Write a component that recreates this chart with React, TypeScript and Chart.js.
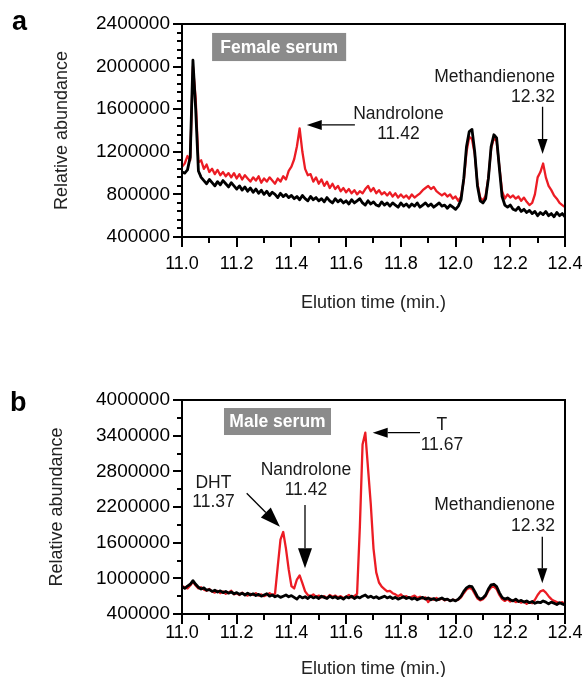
import React, { useEffect, useRef } from "react";
import { Chart, registerables } from "chart.js";

Chart.register(...registerables);

const FONT = '"Liberation Sans", Arial, Helvetica, sans-serif';
const RED = "#ec1c24";

// sampling grid (minutes)
const TIMES = Array.from({ length: 141 }, (_, i) => Math.round((11 + i * 0.01) * 100) / 100);

// values in thousands of counts, one per TIMES entry (11.00 .. 12.40)
const FEMALE_BLACK_K = [
  1010, 1000, 1030, 1150, 2060, 1600, 1020, 960, 930, 900,
  940, 910, 880, 920, 890, 930, 900, 870, 910, 880,
  850, 880, 840, 870, 830, 860, 820, 850, 810, 840,
  800, 830, 790, 820, 800, 770, 810, 780, 800, 770,
  790, 760, 780, 750, 790, 760, 740, 780, 750, 770,
  740, 760, 730, 770, 740, 720, 760, 730, 750, 720,
  740, 710, 750, 720, 740, 760, 720, 700, 740, 710,
  730, 700, 690, 730, 700, 720, 690, 720, 700, 680,
  720, 690, 710, 680, 710, 690, 720, 680, 700, 720,
  690, 710, 680, 700, 720, 690, 700, 670, 700, 680,
  660, 690, 750, 950, 1250, 1390, 1410, 1200, 880, 740,
  720, 760, 950, 1250, 1360, 1330, 1050, 780, 700, 680,
  700, 660, 650, 680, 640, 660, 630, 650, 620, 640,
  600, 630, 610, 640, 600, 620, 590, 630, 600, 620,
  590,
];

const FEMALE_RED_K = [
  1060, 1090, 1160, 1120, 2000, 1700, 1100, 1120, 1040, 1080,
  1010, 1040, 990, 1030, 980, 1010, 970, 1000, 960, 1000,
  950, 990, 940, 980, 950, 920, 960, 930, 970, 910,
  950, 920, 960, 930, 900, 950, 920, 970, 940, 1020,
  1060, 1130, 1250, 1420, 1200, 1040, 980, 990, 920, 960,
  900, 940, 880, 920, 860, 900, 850, 880, 830, 860,
  820, 850, 810, 840, 800, 830, 810, 850, 880, 830,
  860, 810, 840, 800, 820, 790, 820, 780, 810, 770,
  800, 770, 790, 760, 800, 770, 790, 810, 840, 860,
  880, 850, 870, 830, 810, 790, 810, 780, 800, 760,
  780, 740, 780, 930, 1200, 1340, 1320, 1180, 900, 770,
  740, 790, 960, 1230, 1330, 1300, 1060, 830, 760, 800,
  770, 790, 760, 780, 740, 770, 730, 700, 720, 800,
  960, 1010, 1090, 960, 880, 840, 790, 760, 720, 700,
  680,
];

const MALE_BLACK_K = [
  860, 830, 870, 900, 960, 900, 850, 820, 840, 800,
  810, 780, 800, 770, 790, 760, 780, 750, 770, 740,
  760, 730, 750, 720, 750, 720, 740, 710, 730, 700,
  720, 740, 700, 720, 690, 710, 680, 700, 720, 690,
  710, 680, 650, 700, 670, 690, 660, 700, 670, 690,
  660, 700, 680, 660, 700, 670, 690, 660, 680, 650,
  690, 670, 700, 660, 690, 670, 700, 720, 680, 700,
  670, 690, 660, 680, 700, 670, 690, 660, 680, 650,
  670, 690, 660, 680, 650, 670, 640, 660, 680, 650,
  670, 640, 660, 630, 650, 670, 640, 650, 620, 640,
  620, 650, 700, 780, 840, 870, 860, 780, 690, 650,
  670, 720, 820, 890, 900, 860, 760, 680, 650, 670,
  640, 620, 650, 610, 630, 600, 620, 590, 610, 580,
  600, 590, 620, 600, 570, 600, 580, 560, 590, 570,
  550,
];

const MALE_RED_K = [
  870, 850, 830, 880, 940, 880, 830, 850, 810, 790,
  820, 780, 760, 790, 750, 780, 740, 760, 790, 730,
  750, 720, 760, 730, 710, 740, 720, 750, 710, 730,
  700, 720, 750, 720, 740, 1200, 1650, 1780, 1500, 1150,
  870, 830, 980, 1050, 920, 780, 720, 700, 730, 690,
  710, 680, 700, 670, 720, 690, 710, 680, 700, 670,
  690, 720, 680, 700, 740, 1850, 3250, 3450, 2850, 2250,
  1500, 1100, 930, 860, 820, 780, 790, 750, 730, 700,
  730, 680, 700, 670, 690, 710, 670, 690, 660, 680,
  600, 660, 640, 670, 640, 660, 630, 650, 620, 640,
  630, 640, 680, 750, 810, 840, 820, 740, 660, 630,
  650, 700, 790, 850, 860, 820, 720, 650, 620, 650,
  610, 630, 600, 620, 590, 610, 570, 600, 580, 640,
  720, 780, 800, 760, 700, 650, 620, 600, 580, 600,
  570,
];

// annotations, in data coordinates (minutes, counts)
const FEMALE_TAG = { text: "Female serum", t0: 11.11, t1: 11.6, v0: 2052000, v1: 2316000 };
const FEMALE_LABELS = [
  { text: "Nandrolone", t: 11.791, v: 1510000, align: "center" },
  { text: "11.42", t: 11.791, v: 1317000, align: "center" },
  { text: "Methandienone", t: 12.363, v: 1858000, align: "right" },
  { text: "12.32", t: 12.363, v: 1670000, align: "right" },
];
const FEMALE_ARROWS = [
  { t1: 11.632, v1: 1452000, t2: 11.456, v2: 1452000, big: false },
  { t1: 12.318, v1: 1623000, t2: 12.318, v2: 1179000, big: false },
];

const MALE_TAG = { text: "Male serum", t0: 11.1535, t1: 11.5446, v0: 3411000, v1: 3865000 };
const MALE_LABELS = [
  { text: "DHT", t: 11.115, v: 2528000, align: "center" },
  { text: "11.37", t: 11.115, v: 2200000, align: "center" },
  { text: "Nandrolone", t: 11.453, v: 2738000, align: "center" },
  { text: "11.42", t: 11.453, v: 2410000, align: "center" },
  { text: "T", t: 11.95, v: 3495000, align: "center" },
  { text: "11.67", t: 11.95, v: 3159000, align: "center" },
  { text: "Methandienone", t: 12.363, v: 2150000, align: "right" },
  { text: "12.32", t: 12.363, v: 1801000, align: "right" },
];
const MALE_ARROWS = [
  { t1: 11.2365, v1: 2430000, t2: 11.358, v2: 1869000, big: true },
  { t1: 11.4496, v1: 2234000, t2: 11.4496, v2: 1169000, big: true },
  { t1: 11.87, v1: 3450000, t2: 11.697, v2: 3450000, big: false },
  { t1: 12.317, v1: 1700000, t2: 12.317, v2: 916000, big: false },
];

type PanelCfg = {
  id: string;
  letter: string;
  letterX: number;
  letterY: number;
  top: number;
  height: number;
  padTop: number;
  xHeight: number;
  xTickLineHeight: number;
  xTitlePad: number;
  yTitlePad: number;
  yMin: number;
  yMax: number;
  yMajor: number;
  yMinor: number;
  black: number[];
  red: number[];
  tag: any;
  labels: any[];
  arrows: any[];
};

function makeDecor(p: PanelCfg) {
  return {
    id: "decor" + p.id,
    afterDraw(chart: any) {
      const { ctx, chartArea: a, scales } = chart;
      const xs = scales.x;
      const ys = scales.y;
      const px = (t: number) => xs.getPixelForValue(t);
      const py = (v: number) => ys.getPixelForValue(v);
      ctx.save();

      // frame
      ctx.strokeStyle = "#000";
      ctx.lineWidth = 2;
      ctx.strokeRect(a.left, a.top, a.right - a.left, a.bottom - a.top);

      // y ticks
      const ny = Math.round((p.yMax - p.yMin) / p.yMinor);
      const every = Math.round(p.yMajor / p.yMinor);
      ctx.beginPath();
      for (let i = 0; i <= ny; i++) {
        const y = Math.round(py(p.yMin + i * p.yMinor));
        const len = i % every === 0 ? 9 : 5;
        ctx.moveTo(a.left, y);
        ctx.lineTo(a.left - len, y);
      }
      // x ticks (major 0.2, minor 0.1)
      for (let i = 0; i <= 14; i++) {
        const x = Math.round(px(11 + i * 0.1));
        const len = i % 2 === 0 ? 10 : 6;
        ctx.moveTo(x, a.bottom);
        ctx.lineTo(x, a.bottom + len);
      }
      ctx.stroke();

      // tag box
      const tg = p.tag;
      const bx0 = px(tg.t0), bx1 = px(tg.t1), by0 = py(tg.v1), by1 = py(tg.v0);
      ctx.fillStyle = "#8b8b8b";
      ctx.fillRect(bx0, by0, bx1 - bx0, by1 - by0);
      ctx.fillStyle = "#fff";
      ctx.font = `bold 17.5px ${FONT}`;
      ctx.textAlign = "center";
      ctx.textBaseline = "middle";
      ctx.fillText(tg.text, (bx0 + bx1) / 2, (by0 + by1) / 2 + 1);

      // labels
      ctx.fillStyle = "#1a1a1a";
      ctx.font = `17.5px ${FONT}`;
      ctx.textBaseline = "alphabetic";
      for (const l of p.labels) {
        ctx.textAlign = l.align;
        ctx.fillText(l.text, px(l.t), py(l.v));
      }

      // arrows
      ctx.strokeStyle = "#000";
      ctx.fillStyle = "#000";
      ctx.lineWidth = 1.3;
      for (const ar of p.arrows) {
        const x1 = px(ar.t1), y1 = py(ar.v1), x2 = px(ar.t2), y2 = py(ar.v2);
        const L = ar.big ? 20 : 15;
        const W = ar.big ? 7 : 5;
        const dx = x2 - x1, dy = y2 - y1;
        const d = Math.hypot(dx, dy);
        const ux = dx / d, uy = dy / d;
        const bx = x2 - ux * L, by = y2 - uy * L;
        ctx.beginPath();
        ctx.moveTo(x1, y1);
        ctx.lineTo(bx, by);
        ctx.stroke();
        ctx.beginPath();
        ctx.moveTo(x2, y2);
        ctx.lineTo(bx - uy * W, by + ux * W);
        ctx.lineTo(bx + uy * W, by - ux * W);
        ctx.closePath();
        ctx.fill();
      }

      // panel letter
      ctx.fillStyle = "#000";
      ctx.font = `bold 27px ${FONT}`;
      ctx.textAlign = "left";
      ctx.textBaseline = "alphabetic";
      ctx.fillText(p.letter, p.letterX, p.letterY);

      ctx.restore();
    },
  };
}

function buildConfig(p: PanelCfg): any {
  return {
    type: "line",
    data: {
      datasets: [
        {
          data: TIMES.map((t, i) => ({ x: t, y: p.black[i] * 1000 })),
          borderColor: "#000",
          borderWidth: 2.8,
          pointRadius: 0,
          tension: 0,
          borderJoinStyle: "round",
        },
        {
          data: TIMES.map((t, i) => ({ x: t, y: p.red[i] * 1000 })),
          borderColor: RED,
          borderWidth: 2.3,
          pointRadius: 0,
          tension: 0,
          borderJoinStyle: "round",
        },
      ],
    },
    options: {
      responsive: false,
      animation: false,
      events: [],
      layout: { padding: { left: 0, right: 20, top: p.padTop, bottom: 0 } },
      plugins: { legend: { display: false }, tooltip: { enabled: false } },
      scales: {
        x: {
          type: "linear",
          min: 11,
          max: 12.4,
          grid: { display: false },
          border: { display: false },
          ticks: {
            stepSize: 0.2,
            autoSkip: false,
            maxRotation: 0,
            padding: 0,
            color: "#000",
            font: { size: 18, family: FONT, lineHeight: p.xTickLineHeight },
            callback: (v: any) => Number(v).toFixed(1),
          },
          title: {
            display: true,
            text: "Elution time (min.)",
            color: "#222",
            font: { size: 18, family: FONT },
            padding: { top: 0, bottom: p.xTitlePad },
          },
          afterFit: (s: any) => {
            s.height = p.xHeight;
          },
        },
        y: {
          type: "linear",
          min: p.yMin,
          max: p.yMax,
          grid: { display: false },
          border: { display: false },
          ticks: {
            stepSize: p.yMajor,
            autoSkip: false,
            padding: 4,
            color: "#000",
            font: { size: 19, family: FONT },
            callback: (v: any) => String(Math.round(Number(v))),
          },
          title: {
            display: true,
            text: "Relative abundance",
            color: "#222",
            font: { size: 18, family: FONT },
            padding: { top: p.yTitlePad, bottom: 0 },
          },
          afterFit: (s: any) => {
            s.width = 182;
          },
        },
      },
    },
    plugins: [makeDecor(p)],
  };
}

const PANEL_A: PanelCfg = {
  id: "a",
  letter: "a",
  letterX: 12,
  letterY: 30,
  top: 0,
  height: 340,
  padTop: 24,
  xHeight: 103,
  xTickLineHeight: 2.09,
  xTitlePad: 26,
  yTitlePad: 51.7,
  yMin: 400000,
  yMax: 2400000,
  yMajor: 400000,
  yMinor: 80000,
  black: FEMALE_BLACK_K,
  red: FEMALE_RED_K,
  tag: FEMALE_TAG,
  labels: FEMALE_LABELS,
  arrows: FEMALE_ARROWS,
};

const PANEL_B: PanelCfg = {
  id: "b",
  letter: "b",
  letterX: 10,
  letterY: 71,
  top: 340,
  height: 337,
  padTop: 60,
  xHeight: 63,
  xTickLineHeight: 1.2,
  xTitlePad: -3,
  yTitlePad: 46.7,
  yMin: 400000,
  yMax: 4000000,
  yMajor: 600000,
  yMinor: 300000,
  black: MALE_BLACK_K,
  red: MALE_RED_K,
  tag: MALE_TAG,
  labels: MALE_LABELS,
  arrows: MALE_ARROWS,
};

function Panel({ cfg }: { cfg: PanelCfg }) {
  const ref = useRef<HTMLCanvasElement | null>(null);
  useEffect(() => {
    if (!ref.current) return;
    const chart = new Chart(ref.current, buildConfig(cfg));
    return () => chart.destroy();
  }, [cfg]);
  return (
    <div style={{ position: "absolute", left: 0, top: cfg.top, width: 585, height: cfg.height }}>
      <canvas ref={ref} width={585} height={cfg.height} style={{ display: "block", width: 585, height: cfg.height }} />
    </div>
  );
}

export default function App() {
  return (
    <div style={{ position: "absolute", left: 0, top: 0, width: 585, height: 677, background: "#fff", overflow: "hidden" }}>
      <Panel cfg={PANEL_A} />
      <Panel cfg={PANEL_B} />
    </div>
  );
}
